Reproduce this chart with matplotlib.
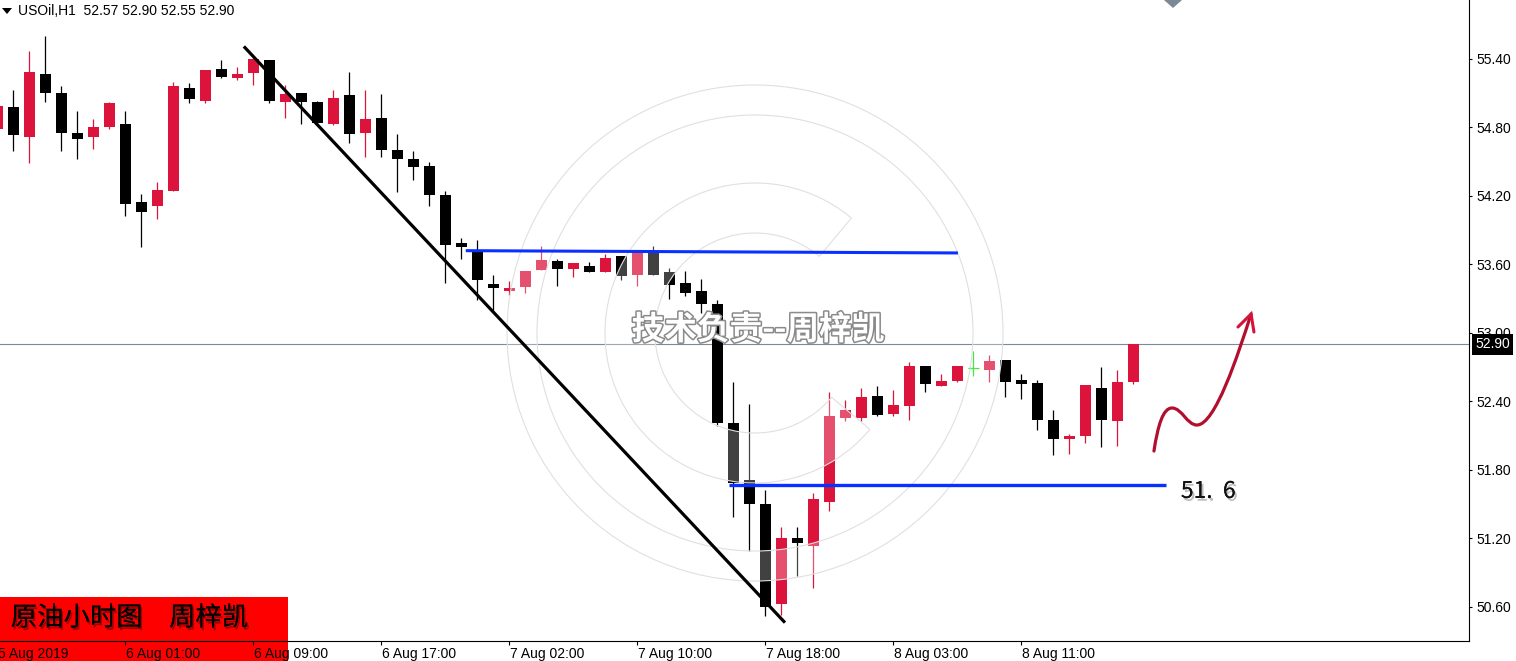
import numpy as np
import matplotlib
matplotlib.use('Agg')
import matplotlib.pyplot as plt
from matplotlib.patches import Rectangle, Wedge, Circle, Polygon, PathPatch
from matplotlib.path import Path
import matplotlib.transforms as mtransforms
import matplotlib.patheffects as pe

plt.rcParams['font.family'] = ['Liberation Sans', 'DejaVu Sans']

W, H = 1516, 661

# ---------------- data (USOil H1) ----------------
bar_index = list(range(-1, 71))
opens = [54.79, 54.98, 54.72, 55.27, 55.10, 54.75, 54.72, 54.80, 54.83, 54.15, 54.11,
         54.24, 55.15, 55.03, 55.31, 55.23, 55.28, 55.39, 55.02, 55.10, 55.02,
         54.83, 55.08, 54.75, 54.88, 54.60, 54.52, 54.46, 54.21, 53.79, 53.72,
         53.43, 53.37, 53.40, 53.55, 53.63, 53.56, 53.59, 53.53, 53.67, 53.51,
         53.71, 53.53, 53.44, 53.37, 53.25, 52.21, 51.71, 51.50, 50.62, 51.20,
         51.13, 51.52, 52.25, 52.25, 52.45, 52.29, 52.36, 52.71, 52.53, 52.58,
         52.69, 52.67, 52.76, 52.59, 52.56, 52.24, 52.07, 52.10, 52.52, 52.23,
         52.57]
highs = [54.99, 55.13, 55.47, 55.60, 55.16, 54.94, 54.87, 55.02, 54.94, 54.22, 54.32,
         55.20, 55.19, 55.30, 55.39, 55.33, 55.41, 55.39, 55.17, 55.10, 55.03,
         55.13, 55.29, 55.13, 55.09, 54.74, 54.59, 54.50, 54.24, 53.83, 53.81,
         53.51, 53.45, 53.54, 53.76, 53.65, 53.61, 53.62, 53.69, 53.67, 53.71,
         53.76, 53.57, 53.54, 53.47, 53.29, 52.57, 52.38, 51.62, 51.30, 51.30,
         51.60, 52.48, 52.41, 52.52, 52.53, 52.50, 52.74, 52.71, 52.64, 52.71,
         52.84, 52.81, 52.76, 52.64, 52.59, 52.32, 52.11, 52.54, 52.70, 52.67,
         52.90]
lows = [54.79, 54.59, 54.49, 55.02, 54.59, 54.52, 54.61, 54.79, 54.02, 53.75, 54.00,
        54.24, 55.01, 55.01, 55.23, 55.22, 55.17, 55.01, 54.88, 54.83, 54.84,
        54.82, 54.66, 54.54, 54.54, 54.23, 54.34, 54.11, 53.44, 53.65, 53.29,
        53.20, 53.33, 53.35, 53.55, 53.41, 53.49, 53.53, 53.53, 53.46, 53.41,
        53.51, 53.30, 53.32, 53.17, 52.18, 51.39, 51.09, 50.52, 50.53, 50.87,
        50.76, 51.44, 52.23, 52.23, 52.27, 52.27, 52.24, 52.48, 52.53, 52.57,
        52.62, 52.57, 52.44, 52.42, 52.15, 51.93, 51.94, 52.03, 52.00, 52.01,
        52.55]
closes = [54.99, 54.73, 55.29, 55.10, 54.75, 54.70, 54.80, 55.01, 54.13, 54.06, 54.25,
          55.16, 55.05, 55.30, 55.24, 55.27, 55.40, 55.03, 55.09, 55.02, 54.84,
          55.06, 54.74, 54.87, 54.60, 54.52, 54.45, 54.21, 53.77, 53.75, 53.46,
          53.39, 53.39, 53.54, 53.64, 53.56, 53.61, 53.53, 53.66, 53.50, 53.71,
          53.51, 53.42, 53.35, 53.25, 52.21, 51.68, 51.50, 50.60, 51.20, 51.16,
          51.54, 52.27, 52.32, 52.44, 52.28, 52.37, 52.71, 52.55, 52.58, 52.71,
          52.69, 52.75, 52.57, 52.55, 52.24, 52.07, 52.10, 52.54, 52.24, 52.57,
          52.90]

x_tick_pos = [-1, 7, 15, 23, 31, 39, 47, 55, 63]
x_tick_labels = ['5 Aug 2019', '6 Aug 01:00', '6 Aug 09:00', '6 Aug 17:00',
                 '7 Aug 02:00', '7 Aug 10:00', '7 Aug 18:00', '8 Aug 03:00',
                 '8 Aug 11:00']
y_ticks = [55.40, 54.80, 54.20, 53.60, 53.00, 52.40, 51.80, 51.20, 50.60]

last_price = 52.90
header_text = 'USOil,H1  52.57 52.90 52.55 52.90'
box_text = '原油小时图　周梓凯'
watermark_text = '技术负责--周梓凯'

# drawn annotations (bar index, price)
trend_x = [14.41, 48.23]
trend_y = [55.51, 50.46]
resist_x = [28.28, 59.04]
resist_y = [53.72, 53.70]
support_x = [44.73, 72.04]
support_y = [51.67, 51.67]
support_label = '51.  6'
support_label_pos = (72.97, 51.61)
curve_pts = [(71.29, 51.964), (71.54, 52.192), (71.86, 52.341), (72.42, 52.341),
             (73.04, 52.341), (73.35, 52.192), (73.98, 52.192), (75.11, 52.192),
             (76.54, 52.806), (77.36, 53.165)]
arrow_x = [76.54, 77.36, 77.54]
arrow_y = [53.051, 53.165, 53.007]

# ---------------- figure ----------------
fig = plt.figure(figsize=(W / 100, H / 100), dpi=100, facecolor='white')
ax = fig.add_axes([0, 20 / H, 1469 / W, 641 / H], zorder=1)
ax.set_facecolor('none')
ax.set_xlim(-0.83, 90.98)
ax.set_ylim(50.299, 55.917)

# pixel transform (origin top-left)
pix = mtransforms.Affine2D().scale(1 / W, -1 / H).translate(0, 1) + fig.transFigure

BULL = '#dc143c'
BEAR = '#000000'
DOJI = '#00e000'

xs = np.array(bar_index, dtype=float)
o = np.array(opens); h = np.array(highs); l = np.array(lows); c = np.array(closes)
colors = [BULL if cc > oo else (BEAR if cc < oo else DOJI) for oo, cc in zip(o, c)]

ax.axhline(last_price, color='#7d8a96', lw=0.8, zorder=2)

ax.vlines(xs, l, h, colors=colors, lw=0.9, zorder=3)
body_h = np.maximum(np.abs(c - o), 0.009)
body_b = np.minimum(o, c)
mask = c != o
ax.bar(xs[mask], body_h[mask], bottom=body_b[mask], width=0.69,
       color=[col for col, m in zip(colors, mask) if m], linewidth=0, zorder=4)
for xi, oi, m in zip(xs, o, mask):
    if not m:
        ax.hlines(oi, xi - 0.34, xi + 0.34, colors=DOJI, lw=0.9, zorder=4)

# watermark logo rings (over candles, under drawn lines)
cx, cy = 755, 333
ring_ec = '#e0e0e0'
ax.add_artist(Wedge((cx, cy), 248, 0, 360, width=30, transform=pix,
                    fc=(1, 1, 1, 0.26), ec='none', zorder=4.5, clip_on=False))
for r in (248, 218):
    ax.add_artist(Circle((cx, cy), r, transform=pix, fill=False, ec=ring_ec, lw=0.8,
                         zorder=4.5, clip_on=False))
ax.add_artist(Wedge((cx, cy), 150, 40, 310, width=50, transform=pix,
                    fc=(1, 1, 1, 0.26), ec=ring_ec, lw=0.8, zorder=4.5, clip_on=False))

# drawn lines
ax.plot(resist_x, resist_y, color='#0a30ff', lw=2.2, solid_capstyle='butt', zorder=5)
ax.plot(support_x, support_y, color='#0a30ff', lw=2.4, solid_capstyle='butt', zorder=5)
ax.plot(trend_x, trend_y, color='black', lw=2.3, solid_capstyle='butt', zorder=6)
ax.text(support_label_pos[0], support_label_pos[1], support_label, fontsize=16.5,
        family=['Noto Sans CJK SC', 'DejaVu Sans'], color='#111111',
        ha='left', va='center', zorder=7,
        path_effects=[pe.withSimplePatchShadow(offset=(1.5, -2), shadow_rgbFace='#444444', alpha=0.35),
                      pe.Normal()])

codes = [Path.MOVETO] + [Path.CURVE4] * (len(curve_pts) - 1)
ax.add_patch(PathPatch(Path(curve_pts, codes), fill=False, ec='#b20f2e', lw=2.3,
                       capstyle='round', zorder=7))
ax.plot(arrow_x, arrow_y, color='#d8113a', lw=2.2, solid_joinstyle='miter',
        solid_capstyle='round', zorder=7)

# axes styling
for s in ['top', 'left']:
    ax.spines[s].set_visible(False)
for s in ['right', 'bottom']:
    ax.spines[s].set_color('black')
    ax.spines[s].set_linewidth(0.8)
ax.yaxis.tick_right()
ax.set_yticks(y_ticks, labels=[f'{v:.2f}' for v in y_ticks])
ax.tick_params(axis='y', direction='out', length=2.5, width=0.8, pad=3.2,
               labelsize=10, colors='black')
ax.set_xticks([p for p in x_tick_pos if p >= -0.83], labels=[])
ax.tick_params(axis='x', direction='out', length=3, width=0.8)
lab_tr = mtransforms.offset_copy(ax.get_xaxis_transform(), fig=fig, x=1, y=-6, units='dots')
for xp, lab in zip(x_tick_pos, x_tick_labels):
    ax.text(xp, 0, lab, transform=lab_tr, ha='left', va='top', fontsize=10,
            clip_on=False, zorder=3)

# last price tag
tag_tr = mtransforms.offset_copy(ax.get_yaxis_transform(), fig=fig, x=6, y=0, units='dots')
ax.text(1.0, last_price, f'{last_price:.2f}', transform=tag_tr, ha='left', va='center',
        fontsize=10, color='white', clip_on=False, zorder=10,
        bbox=dict(boxstyle='square,pad=0.25', fc='black', ec='none'))

# ---------------- figure-level decorations ----------------
# red label box (under axes)
fig.add_artist(Rectangle((0, 597), 288, 64, transform=pix, fc='#ff0000', ec='none', zorder=0.5))
fig.text(10.7 / W, 1 - 618 / H, box_text, fontsize=19,
         family=['Noto Sans CJK SC', 'DejaVu Sans'], color='black', ha='left', va='center',
         zorder=3,
         path_effects=[pe.withSimplePatchShadow(offset=(1.2, -1.8), shadow_rgbFace='black', alpha=0.35),
                       pe.Normal()])

# header
fig.add_artist(Polygon([(2, 8), (12, 8), (7, 14)], closed=True, transform=pix,
                       fc='black', ec='none', zorder=3))
fig.text(18 / W, 1 - 11 / H, header_text, fontsize=10, ha='left', va='center', zorder=3)

# small diamond at top
fig.add_artist(Polygon([(1164, 0), (1182, 0), (1173, 8)], closed=True, transform=pix,
                       fc='#7b8896', ec='none', zorder=3))

# watermark text
fig.text(758 / W, 1 - 330 / H, watermark_text, fontsize=23.5, weight='bold',
         family=['Noto Sans CJK SC', 'DejaVu Sans'], color='white', ha='center', va='center',
         zorder=4, path_effects=[pe.withStroke(linewidth=2.2, foreground='#8a8a8a')])

fig.savefig('out.png', dpi=100, facecolor='white')
